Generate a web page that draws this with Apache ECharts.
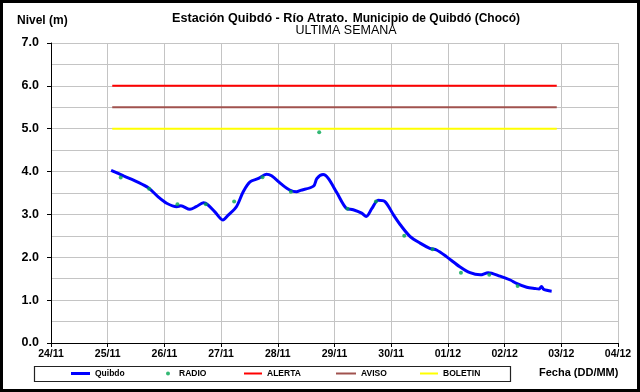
<!DOCTYPE html>
<html>
<head>
<meta charset="utf-8">
<script src="https://cdn.jsdelivr.net/npm/echarts@6/dist/echarts.min.js"></script>
<style>
  html, body { margin: 0; padding: 0; background: #fff; }
  #chart { width: 640px; height: 392px; }
</style>
</head>
<body>
<div id="chart"></div>
<script>
// Fecha en días contados desde el 24/11 a las 00:00
var fechaTicks = ['24/11', '25/11', '26/11', '27/11', '28/11', '29/11', '30/11', '01/12', '02/12', '03/12', '04/12'];

// Nivel registrado por la estación Quibdo
var quibdoDia = [1.06, 1.28, 1.54, 1.72, 1.89, 2.04, 2.22, 2.29, 2.45, 2.56, 2.69, 2.77, 2.89, 3.03, 3.13, 3.27, 3.39, 3.51, 3.66, 3.80, 3.89, 4.07, 4.21, 4.33, 4.40, 4.63, 4.69, 4.80, 4.89, 5.04, 5.21, 5.33, 5.48, 5.56, 5.66, 5.77, 5.89, 6.04, 6.16, 6.33, 6.51, 6.68, 6.80, 6.98, 7.21, 7.39, 7.57, 7.71, 7.92, 8.10, 8.21, 8.39, 8.54, 8.61, 8.65, 8.69, 8.83];
var quibdoNivel = [4.03, 3.90, 3.75, 3.62, 3.41, 3.26, 3.18, 3.20, 3.12, 3.18, 3.27, 3.22, 3.06, 2.87, 2.99, 3.18, 3.53, 3.76, 3.84, 3.94, 3.90, 3.70, 3.57, 3.53, 3.56, 3.66, 3.84, 3.93, 3.84, 3.51, 3.14, 3.11, 3.03, 2.95, 3.14, 3.33, 3.30, 2.99, 2.76, 2.49, 2.33, 2.21, 2.17, 2.01, 1.78, 1.64, 1.59, 1.64, 1.56, 1.47, 1.39, 1.30, 1.27, 1.26, 1.32, 1.25, 1.21];

// Lecturas reportadas por radio
var radioDia = [1.23, 1.73, 2.23, 2.73, 3.23, 3.73, 4.23, 4.73, 5.23, 5.73, 6.23, 6.73, 7.23, 7.73, 8.23];
var radioNivel = [3.86, 3.60, 3.24, 3.24, 3.30, 3.87, 3.53, 4.92, 3.13, 3.30, 2.50, 2.19, 1.64, 1.59, 1.33];

// Umbrales de alerta y tramo de la semana en que se dibujan
var umbralDia = [1.08, 8.92];
var nivelAlerta = 6.0;
var nivelAviso = 5.5;
var nivelBoletin = 5.0;

function pares(xs, ys) {
  return xs.map(function (x, i) { return [x, ys[i]]; });
}
function horizontal(nivel) {
  return umbralDia.map(function (x) { return [x, nivel]; });
}

var fuente = 'Liberation Sans, Arial, sans-serif';

function leyenda(nombre, left, icono, w, h, sangria) {
  return {
    data: [{ name: nombre, icon: icono }],
    left: left, top: 369, padding: 0,
    itemWidth: w, itemHeight: h, itemGap: 0,
    textStyle: {
      fontFamily: fuente, fontSize: 8.5, fontWeight: 'bold', color: '#000',
      padding: [0, 0, 0, sangria || 0]
    },
    selectedMode: false
  };
}

var chart = echarts.init(document.getElementById('chart'), null, { renderer: 'canvas' });

chart.setOption({
  animation: false,
  backgroundColor: '#fff',
  title: [
    {
      text: '{b|Estación Quibdó - Río Atrato.} {n|Municipio de Quibdó (Chocó)}',
      left: 346, top: 10, textAlign: 'center', padding: 0,
      textStyle: {
        rich: {
          b: { fontFamily: fuente, fontSize: 12.6, fontWeight: 'bold', color: '#000' },
          n: { fontFamily: fuente, fontSize: 12, color: '#000' }
        }
      }
    },
    {
      text: 'ULTIMA SEMANA',
      left: 346, top: 24, textAlign: 'center', padding: 0,
      textStyle: { fontFamily: fuente, fontSize: 12.5, fontWeight: 'normal', color: '#000' }
    },
    {
      text: 'Nivel (m)',
      left: 17, top: 15, padding: 0,
      textStyle: { fontFamily: fuente, fontSize: 12, fontWeight: 'bold', color: '#000' }
    },
    {
      text: 'Fecha (DD/MM)',
      left: 539, top: 367, padding: 0,
      textStyle: { fontFamily: fuente, fontSize: 11, fontWeight: 'bold', color: '#000' }
    }
  ],
  grid: { left: 51, right: 22, top: 43, bottom: 49, containLabel: false },
  xAxis: {
    type: 'value', min: 0, max: 10, interval: 1,
    axisLine: { show: true, lineStyle: { color: '#000', width: 1 } },
    axisTick: { show: true, length: 4, lineStyle: { color: '#000' } },
    axisLabel: {
      margin: 6, color: '#000', fontFamily: fuente, fontSize: 10.5, fontWeight: 'bold',
      formatter: function (v) { return fechaTicks[Math.round(v)]; }
    },
    splitLine: { show: true, lineStyle: { color: '#c4c4c4', width: 1 } }
  },
  yAxis: {
    type: 'value', min: 0, max: 7, interval: 1,
    axisLine: { show: true, lineStyle: { color: '#000', width: 1 } },
    axisTick: { show: true, length: 4, lineStyle: { color: '#000' } },
    axisLabel: {
      margin: 12, color: '#000', fontFamily: fuente, fontSize: 12.5, fontWeight: 'bold',
      formatter: function (v) { return v.toFixed(1); }
    },
    splitLine: { show: true, lineStyle: { color: '#c4c4c4', width: 1 } },
    minorTick: { show: false, splitNumber: 2 },
    minorSplitLine: { show: true, lineStyle: { color: '#c4c4c4', width: 1 } }
  },
  legend: [
    leyenda('Quibdo', 71, 'rect', 19, 3),
    leyenda('RADIO', 166, 'circle', 4, 4, 4),
    leyenda('ALERTA', 244, 'rect', 18, 2),
    leyenda('AVISO', 336, 'rect', 20, 2),
    leyenda('BOLETIN', 420, 'rect', 18, 2)
  ],
  graphic: [
    {
      type: 'rect', z: 100, silent: true,
      shape: { x: 1.5, y: 1.5, width: 637, height: 389 },
      style: { fill: 'none', stroke: '#000', lineWidth: 3 }
    },
    {
      type: 'rect', z: 1, silent: true,
      shape: { x: 34.5, y: 366.5, width: 476, height: 15 },
      style: { fill: 'none', stroke: '#222', lineWidth: 1.2 }
    }
  ],
  series: [
    {
      name: 'ALERTA', type: 'line', data: horizontal(nivelAlerta),
      symbol: 'none', lineStyle: { color: '#ff0000', width: 2 }, itemStyle: { color: '#ff0000' }, z: 2
    },
    {
      name: 'AVISO', type: 'line', data: horizontal(nivelAviso),
      symbol: 'none', lineStyle: { color: '#a0524e', width: 2 }, itemStyle: { color: '#a0524e' }, z: 2
    },
    {
      name: 'BOLETIN', type: 'line', data: horizontal(nivelBoletin),
      symbol: 'none', lineStyle: { color: '#ffff00', width: 2 }, itemStyle: { color: '#ffff00' }, z: 2
    },
    {
      name: 'Quibdo', type: 'line', data: pares(quibdoDia, quibdoNivel),
      symbol: 'none', smooth: 0.3,
      lineStyle: { color: '#0000ff', width: 3 }, itemStyle: { color: '#0000ff' }, z: 3
    },
    {
      name: 'RADIO', type: 'scatter', data: pares(radioDia, radioNivel),
      symbol: 'circle', symbolSize: 4,
      itemStyle: { color: '#00a651' }, z: 4
    }
  ]
});
</script>
</body>
</html>
